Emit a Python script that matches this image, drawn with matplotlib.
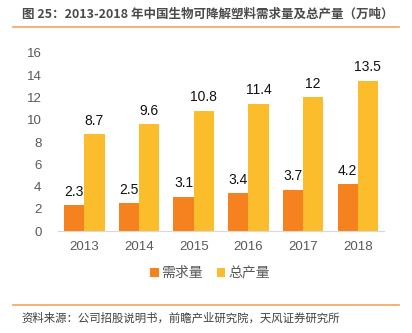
import numpy as np
import matplotlib
matplotlib.use("Agg")
import matplotlib.pyplot as plt
from matplotlib.lines import Line2D

plt.rcParams['font.family'] = ['Liberation Sans', 'Noto Sans CJK SC', 'DejaVu Sans']

years = ["2013", "2014", "2015", "2016", "2017", "2018"]
demand = [2.3, 2.5, 3.1, 3.4, 3.7, 4.2]
output = [8.7, 9.6, 10.8, 11.4, 12, 13.5]
series_names = ["需求量", "总产量"]

c_orange = "#F5821F"
c_yellow = "#FBBD2C"

fig = plt.figure(figsize=(4.12, 3.33), dpi=100)
ax = fig.add_axes([0.141, 0.306, 0.791, 0.535])

x = np.arange(len(years))
w = 0.37
b1 = ax.bar(x - w / 2, demand, w, color=c_orange, label=series_names[0])
b2 = ax.bar(x + w / 2, output, w, color=c_yellow, label=series_names[1])

for rect, v in zip(b1, demand):
    ax.text(rect.get_x() + rect.get_width() / 2, v + 0.6, f"{v:g}",
            ha="center", va="bottom", fontsize=10, color="#111111")
for rect, v in zip(b2, output):
    ax.text(rect.get_x() + rect.get_width() / 2, v + 0.6, f"{v:g}",
            ha="center", va="bottom", fontsize=10, color="#111111")

ax.set_xlim(-0.48, 5.48)
ax.set_ylim(0, 16)
ax.set_yticks(range(0, 17, 2))
ax.set_xticks(x)
ax.set_xticklabels(years)
ax.tick_params(axis="both", length=0, labelsize=9.5, colors="#595959")
ax.tick_params(axis="x", pad=7)
ax.tick_params(axis="y", pad=12)
for s in ["top", "right", "left"]:
    ax.spines[s].set_visible(False)
ax.spines["bottom"].set_color("#D9D9D9")

leg = fig.legend(handles=[b1, b2], labels=series_names, loc="center",
                 bbox_to_anchor=(0.51, 0.18), ncol=2, frameon=False,
                 prop={"family": ["Noto Sans CJK SC"], "size": 10},
                 handlelength=0.6, handleheight=0.6,
                 handletextpad=0.2, columnspacing=1.0)
for t in leg.get_texts():
    t.set_color("#595959")

# 标题和资料来源
fig.text(0.053, 0.957, "图 25：2013-2018 年中国生物可降解塑料需求量及总产量（万吨）",
         family=["Noto Sans CJK SC"], fontsize=9, fontweight="bold",
         color="#4a4a4a", va="center", ha="left")
fig.add_artist(Line2D([0.032, 0.968], [0.918, 0.918], color="#F4A460", lw=1.2))
fig.add_artist(Line2D([0.032, 0.968], [0.084, 0.084], color="#F4A460", lw=1.2))
fig.text(0.053, 0.045, "资料来源：公司招股说明书，前瞻产业研究院，天风证券研究所",
         family=["Noto Sans CJK SC"], fontsize=8.2, color="#404040",
         va="center", ha="left")

fig.savefig("out.png", dpi=100)
